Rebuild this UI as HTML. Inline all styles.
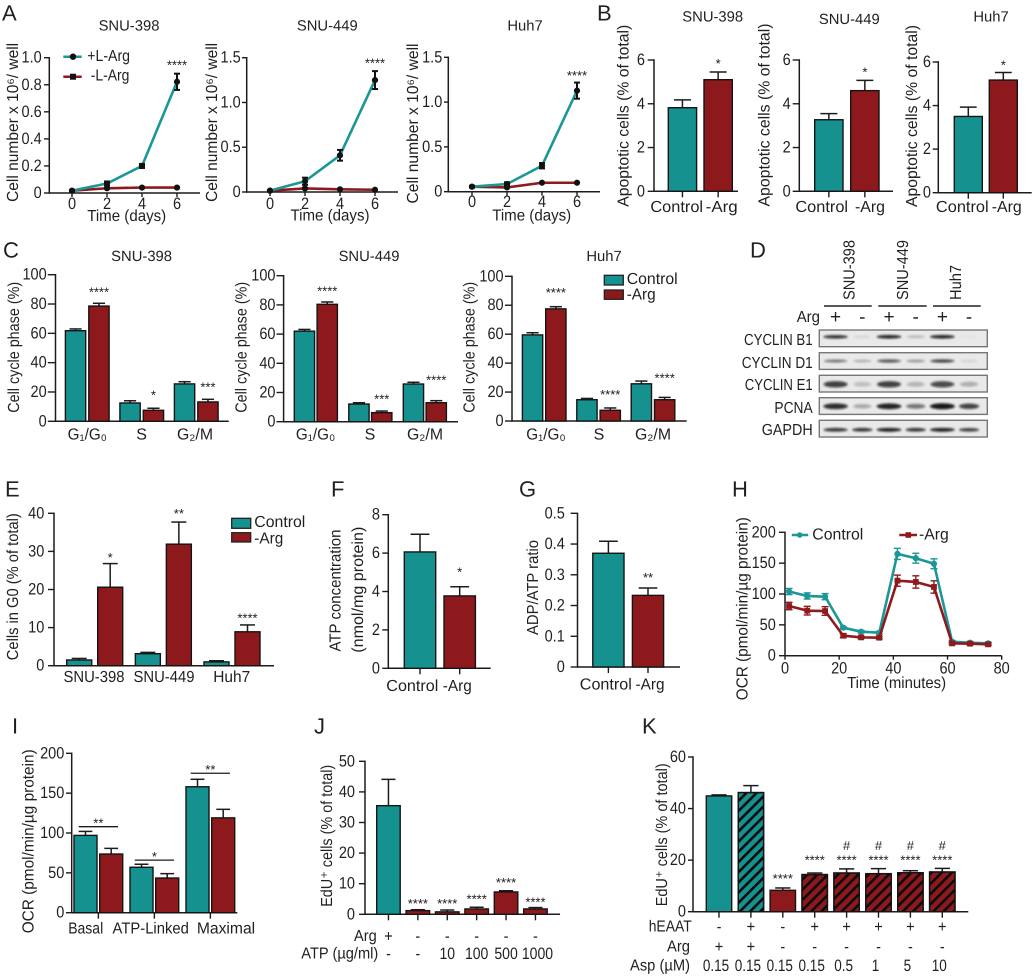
<!DOCTYPE html>
<html lang="en">
<head>
<meta charset="utf-8">
<title>Arginine deprivation figure</title>
<style>
html,body{margin:0;padding:0;background:#fff;}
svg{display:block;}
text{font-family:"Liberation Sans",sans-serif;fill:#231f20;dominant-baseline:central;font-size:16px;text-rendering:geometricPrecision;}
.letter{font-size:22px;}
.title{font-size:14.8px;}
.mid{text-anchor:middle;}
.end{text-anchor:end;}
</style>
</head>
<body>
<svg id="figure" xmlns="http://www.w3.org/2000/svg" width="1035" height="977" viewBox="0 0 1035 977">
<defs>
<pattern id="hatch" patternUnits="userSpaceOnUse" width="7.2" height="7.2" patternTransform="rotate(45)"><rect x="0" y="0" width="2.6" height="7.2" fill="#0b0b0b"/></pattern>
<filter id="blur" x="-30%" y="-100%" width="160%" height="300%"><feGaussianBlur stdDeviation="1"/></filter>
</defs>
<rect x="0" y="0" width="1035" height="977" fill="#fff"/>

<text class="letter" x="2" y="13">A</text>
<text class="letter" x="597" y="13">B</text>
<text class="letter" x="3" y="250">C</text>
<text class="letter" x="750" y="250">D</text>
<text class="letter" x="5" y="489">E</text>
<text class="letter" x="331" y="489">F</text>
<text class="letter" x="519" y="489">G</text>
<text class="letter" x="732" y="489">H</text>
<text class="letter" x="12" y="726">I</text>
<text class="letter" x="314" y="726">J</text>
<text class="letter" x="642" y="726">K</text>

<!-- Panel titles -->
<text class="title mid" x="129" y="26.7">SNU-398</text>
<text class="title mid" x="327.3" y="26.7">SNU-449</text>
<text class="title mid" x="525" y="26.7">Huh7</text>
<text class="title mid" x="712.7" y="17.3">SNU-398</text>
<text class="title mid" x="849.3" y="20">SNU-449</text>
<text class="title mid" x="991" y="17.3">Huh7</text>
<text class="title mid" x="141.6" y="257">SNU-398</text>
<text class="title mid" x="369" y="257">SNU-449</text>
<text class="title mid" x="604" y="257">Huh7</text>

<!-- Y axis titles -->
<text class="mid" transform="translate(13.3,122.4) rotate(-90)" textLength="159" lengthAdjust="spacingAndGlyphs">Cell number x 10⁶/ well</text>
<text class="mid" transform="translate(212.3,122.4) rotate(-90)" textLength="159" lengthAdjust="spacingAndGlyphs">Cell number x 10⁶/ well</text>
<text class="mid" transform="translate(413.3,123.5) rotate(-90)" textLength="160" lengthAdjust="spacingAndGlyphs">Cell number x 10⁶/ well</text>
<text class="mid" transform="translate(624,115.8) rotate(-90)" textLength="182" lengthAdjust="spacingAndGlyphs">Apoptotic cells (% of total)</text>
<text class="mid" transform="translate(765,115) rotate(-90)" textLength="183" lengthAdjust="spacingAndGlyphs">Apoptotic cells (% of total)</text>
<text class="mid" transform="translate(912.7,116) rotate(-90)" textLength="182" lengthAdjust="spacingAndGlyphs">Apoptotic cells (% of total)</text>
<text class="mid" transform="translate(14.5,347.3) rotate(-90)" textLength="131" lengthAdjust="spacingAndGlyphs">Cell cycle phase (%)</text>
<text class="mid" transform="translate(241.9,347.3) rotate(-90)" textLength="131" lengthAdjust="spacingAndGlyphs">Cell cycle phase (%)</text>
<text class="mid" transform="translate(470,347.3) rotate(-90)" textLength="131" lengthAdjust="spacingAndGlyphs">Cell cycle phase (%)</text>
<text class="mid" transform="translate(13.3,586.7) rotate(-90)" textLength="147" lengthAdjust="spacingAndGlyphs">Cells in G0 (% of total)</text>
<text class="mid" transform="translate(336,590.5) rotate(-90)" textLength="122" lengthAdjust="spacingAndGlyphs">ATP concentration</text>
<text class="mid" transform="translate(358.3,589.7) rotate(-90)" textLength="126" lengthAdjust="spacingAndGlyphs">(nmol/mg protein)</text>
<text class="mid" transform="translate(533.4,587.5) rotate(-90)" textLength="95" lengthAdjust="spacingAndGlyphs">ADP/ATP ratio</text>
<text class="mid" transform="translate(743,608.7) rotate(-90)" textLength="183" lengthAdjust="spacingAndGlyphs">OCR (pmol/min/µg protein)</text>
<text class="mid" transform="translate(29,841.3) rotate(-90)" textLength="184" lengthAdjust="spacingAndGlyphs">OCR (pmol/min/µg protein)</text>
<text class="mid" transform="translate(327.3,835.8) rotate(-90)" textLength="142" lengthAdjust="spacingAndGlyphs">EdU⁺ cells (% of total)</text>
<text class="mid" transform="translate(662.3,834.8) rotate(-90)" textLength="143" lengthAdjust="spacingAndGlyphs">EdU⁺ cells (% of total)</text>

<!-- X axis titles -->
<text class="mid" x="126.7" y="216.7" textLength="79" lengthAdjust="spacingAndGlyphs">Time (days)</text>
<text class="mid" x="330" y="216" textLength="79" lengthAdjust="spacingAndGlyphs">Time (days)</text>
<text class="mid" x="531.7" y="216" textLength="79" lengthAdjust="spacingAndGlyphs">Time (days)</text>
<text class="mid" x="896.6" y="683.3" textLength="99" lengthAdjust="spacingAndGlyphs">Time (minutes)</text>

<!-- Category labels -->
<text class="mid" x="676.7" y="207.7" textLength="52.7" lengthAdjust="spacingAndGlyphs">Control</text>
<text class="mid" x="721.7" y="207.7" textLength="32" lengthAdjust="spacingAndGlyphs">-Arg</text>
<text class="mid" x="821.7" y="207.7" textLength="52.7" lengthAdjust="spacingAndGlyphs">Control</text>
<text class="mid" x="870" y="207.7" textLength="30" lengthAdjust="spacingAndGlyphs">-Arg</text>
<text class="mid" x="962.3" y="207.7" textLength="52.7" lengthAdjust="spacingAndGlyphs">Control</text>
<text class="mid" x="1006.7" y="207.7" textLength="30" lengthAdjust="spacingAndGlyphs">-Arg</text>

<text class="mid" x="87.3" y="435" textLength="39.4" lengthAdjust="spacingAndGlyphs">G₁/G₀</text>
<text class="mid" x="141.6" y="435">S</text>
<text class="mid" x="195" y="435" textLength="36" lengthAdjust="spacingAndGlyphs">G₂/M</text>
<text class="mid" x="315.6" y="435" textLength="39.4" lengthAdjust="spacingAndGlyphs">G₁/G₀</text>
<text class="mid" x="370" y="435">S</text>
<text class="mid" x="425" y="435" textLength="36" lengthAdjust="spacingAndGlyphs">G₂/M</text>
<text class="mid" x="546" y="435" textLength="39.4" lengthAdjust="spacingAndGlyphs">G₁/G₀</text>
<text class="mid" x="599" y="435">S</text>
<text class="mid" x="653" y="435" textLength="36" lengthAdjust="spacingAndGlyphs">G₂/M</text>

<text class="mid" x="94" y="677.7" textLength="61" lengthAdjust="spacingAndGlyphs">SNU-398</text>
<text class="mid" x="164" y="677.7" textLength="61" lengthAdjust="spacingAndGlyphs">SNU-449</text>
<text class="mid" x="231.7" y="677.7" textLength="37" lengthAdjust="spacingAndGlyphs">Huh7</text>

<text class="mid" x="412.3" y="686.7" textLength="52" lengthAdjust="spacingAndGlyphs">Control</text>
<text class="mid" x="457.3" y="686.7" textLength="29" lengthAdjust="spacingAndGlyphs">-Arg</text>
<text class="mid" x="605.8" y="685" textLength="52" lengthAdjust="spacingAndGlyphs">Control</text>
<text class="mid" x="650" y="685" textLength="29" lengthAdjust="spacingAndGlyphs">-Arg</text>

<text class="mid" x="85.7" y="929" textLength="35" lengthAdjust="spacingAndGlyphs">Basal</text>
<text class="mid" x="150.7" y="929" textLength="76.3" lengthAdjust="spacingAndGlyphs">ATP-Linked</text>
<text class="mid" x="226" y="929" textLength="58.3" lengthAdjust="spacingAndGlyphs">Maximal</text>

<text class="end" x="376.7" y="936.7" textLength="22.7" lengthAdjust="spacingAndGlyphs">Arg</text>
<text class="end" x="378.3" y="954" textLength="77" lengthAdjust="spacingAndGlyphs">ATP (µg/ml)</text>
<text class="end" x="691.7" y="927" textLength="43" lengthAdjust="spacingAndGlyphs">hEAAT</text>
<text class="end" x="690" y="947" textLength="23" lengthAdjust="spacingAndGlyphs">Arg</text>
<text class="end" x="690" y="966" textLength="60" lengthAdjust="spacingAndGlyphs">Asp (µM)</text>

<!-- Legends -->
<g>
<line x1="63.3" x2="81.7" y1="56.7" y2="56.7" stroke="#1a9796" stroke-width="2.5"/>
<circle cx="73" cy="56.7" r="3.2" fill="#111"/>
<text x="87.3" y="56.7" textLength="42.7" lengthAdjust="spacingAndGlyphs">+L-Arg</text>
<line x1="63.3" x2="81.7" y1="76.7" y2="76.7" stroke="#8f1a1e" stroke-width="2.5"/>
<rect x="70" y="73.7" width="6" height="6" fill="#111"/>
<text x="90.7" y="76" textLength="38.7" lengthAdjust="spacingAndGlyphs">-L-Arg</text>
</g>
<g>
<rect x="604.3" y="275.3" width="19" height="9.7" fill="#159290" stroke="#222" stroke-width="1.3"/>
<text x="626.7" y="279.7" textLength="51" lengthAdjust="spacingAndGlyphs">Control</text>
<rect x="604.3" y="290" width="19" height="9.3" fill="#8e191c" stroke="#222" stroke-width="1.3"/>
<text x="626.7" y="295" textLength="29" lengthAdjust="spacingAndGlyphs">-Arg</text>
</g>
<g>
<rect x="231.7" y="518.3" width="19" height="10" fill="#159290" stroke="#222" stroke-width="1.3"/>
<text x="254.3" y="522.7" textLength="51" lengthAdjust="spacingAndGlyphs">Control</text>
<rect x="231.7" y="532.7" width="19" height="9.3" fill="#8e191c" stroke="#222" stroke-width="1.3"/>
<text x="254.3" y="539" textLength="29" lengthAdjust="spacingAndGlyphs">-Arg</text>
</g>
<g>
<line x1="791.8" x2="808.2" y1="535" y2="535" stroke="#1a9796" stroke-width="2.5"/>
<circle cx="799.7" cy="535" r="2.8" fill="#1a9796"/>
<text x="812.3" y="535" textLength="51" lengthAdjust="spacingAndGlyphs">Control</text>
<line x1="899.3" x2="917" y1="535" y2="535" stroke="#8f1a1e" stroke-width="2.5"/>
<rect x="905.5" y="532.2" width="5.6" height="5.6" fill="#8f1a1e"/>
<text x="919" y="535" textLength="29.7" lengthAdjust="spacingAndGlyphs">-Arg</text>
</g>

<!-- Panel D static labels -->
<g>
<text transform="translate(850,300) rotate(-90)" textLength="60" lengthAdjust="spacingAndGlyphs">SNU-398</text>
<text transform="translate(903.3,300) rotate(-90)" textLength="60" lengthAdjust="spacingAndGlyphs">SNU-449</text>
<text transform="translate(956.7,300) rotate(-90)" textLength="35" lengthAdjust="spacingAndGlyphs">Huh7</text>
<line x1="824" x2="871.7" y1="306" y2="306" stroke="#222" stroke-width="1.5"/>
<line x1="878.3" x2="926.7" y1="306" y2="306" stroke="#222" stroke-width="1.5"/>
<line x1="933" x2="980.7" y1="306" y2="306" stroke="#222" stroke-width="1.5"/>
<text class="end" x="820" y="317.3" textLength="23.3" lengthAdjust="spacingAndGlyphs">Arg</text>
<text class="end" x="812.7" y="340.7" textLength="68.7" lengthAdjust="spacingAndGlyphs">CYCLIN B1</text>
<text class="end" x="812.7" y="363.7" textLength="71" lengthAdjust="spacingAndGlyphs">CYCLIN D1</text>
<text class="end" x="812.7" y="385.7" textLength="68" lengthAdjust="spacingAndGlyphs">CYCLIN E1</text>
<text class="end" x="812.7" y="408.3" textLength="38.3" lengthAdjust="spacingAndGlyphs">PCNA</text>
<text class="end" x="812.7" y="430.7" textLength="51" lengthAdjust="spacingAndGlyphs">GAPDH</text>
</g>
</svg>

<script>
/* ===== Panel A ===== */
const aDays = [0, 2, 4, 6];
const aDayLabels = ['0', '2', '4', '6'];
const a1YTicks = [0, 0.2, 0.4, 0.6, 0.8, 1.0];
const a1YLabels = ['0', '0.2', '0.4', '0.6', '0.8', '1.0'];
const a23YTicks = [0, 0.5, 1.0, 1.5];
const a23YLabels = ['0', '0.5', '1.0', '1.5'];
const a1Plus = [0.017, 0.07, 0.2, 0.822];
const a1PlusErr = [0.005, 0.015, 0.015, 0.06];
const a1Minus = [0.017, 0.035, 0.04, 0.04];
const a2Plus = [0.015, 0.12, 0.41, 1.25];
const a2PlusErr = [0.005, 0.04, 0.06, 0.1];
const a2Minus = [0.015, 0.04, 0.03, 0.025];
const a3Plus = [0.056, 0.085, 0.29, 1.128];
const a3PlusErr = [0.01, 0.02, 0.03, 0.09];
const a3Minus = [0.056, 0.048, 0.1, 0.1];
const aStarLevels = [0.953, 1.45, 1.31];

/* ===== Panel B ===== */
const bYTicks = [0, 2, 4, 6];
const bYLabels = ['0', '2', '4', '6'];
const b1Values = [3.82, 5.1];
const b1Errors = [4.18, 5.45];
const b2Values = [3.27, 4.6];
const b2Errors = [3.55, 5.07];
const b3Values = [3.5, 5.17];
const b3Errors = [3.93, 5.52];
const bStarLevels = [5.88, 5.5, 5.91];

/* ===== Panel C ===== */
const cYTicks = [0, 20, 40, 60, 80, 100];
const cYLabels = ['0', '20', '40', '60', '80', '100'];
const c1Values = [61.8, 78.6, 12.5, 7.5, 25.5, 13.2];
const c1Errors = [63, 80.5, 14, 8.9, 27, 15];
const c1Stars = ['****', '*', '***'];
const c1StarLevels = [89, 18.6, 24];
const c2Values = [62, 80.4, 12.1, 6.2, 25.8, 13];
const c2Errors = [63.2, 82, 13, 7.3, 27, 14.4];
const c2Stars = ['****', '***', '****'];
const c2StarLevels = [90.2, 16.4, 29.2];
const c3Values = [59.5, 77.5, 14.7, 7.4, 25.7, 14.7];
const c3Errors = [61, 79, 15.6, 9, 27.6, 16.3];
const c3Stars = ['****', '****', '****'];
const c3StarLevels = [89.4, 18.9, 30.4];

/* ===== Panel D: band intensity per lane ===== */
const dLaneSigns = ['+', '-', '+', '-', '+', '-'];
const dCyclinB1 = [0.9, 0.1, 0.95, 0.25, 0.95, 0.03];
const dCyclinD1 = [0.55, 0.3, 0.7, 0.4, 0.8, 0.12];
const dCyclinE1 = [0.8, 0.2, 0.8, 0.25, 0.75, 0.28];
const dPcna = [0.9, 0.3, 0.95, 0.55, 1, 0.8];
const dGapdh = [0.85, 0.85, 0.95, 0.85, 0.95, 0.8];

/* ===== Panel E ===== */
const eYTicks = [0, 10, 20, 30, 40];
const eYLabels = ['0', '10', '20', '30', '40'];
const eValues = [1.5, 20.6, 3.15, 31.9, 1, 8.9];
const eErrors = [1.9, 26.8, 3.5, 37.7, 1.3, 10.7];
const eStars = ['*', '**', '****'];
const eStarLevels = [28.6, 40.2, 12.8];

/* ===== Panels F, G ===== */
const fYTicks = [0, 2, 4, 6, 8];
const fYLabels = ['0', '2', '4', '6', '8'];
const fValues = [6.06, 3.77];
const fErrors = [6.98, 4.25];
const fStarLevels = [5.08];
const gYTicks = [0, 0.1, 0.2, 0.3, 0.4, 0.5];
const gYLabels = ['0', '0.1', '0.2', '0.3', '0.4', '0.5'];
const gValues = [0.37, 0.233];
const gErrors = [0.409, 0.257];
const gStarLevels = [0.294];

/* ===== Panel H ===== */
const hMinutes = [1.5, 8.2, 14.8, 21.5, 28.1, 34.8, 41.5, 48.3, 55, 61.7, 68.3, 75];
const hControl = [104, 96.8, 95.7, 45.4, 38.9, 37.3, 165, 158, 149, 22.7, 21, 20];
const hControlErr = [5, 5, 5, 2, 2, 2, 9, 8, 8, 2, 2, 2];
const hArg = [80.5, 73, 72.4, 32.4, 29.7, 29.2, 121.6, 119.5, 111.4, 20, 19.5, 18.4];
const hArgErr = [6, 7, 7, 3, 2, 2, 9, 10, 10, 2, 2, 2];
const hXTicks = [0, 20, 40, 60, 80];
const hXLabels = ['0', '20', '40', '60', '80'];
const hYTicks = [0, 50, 100, 150, 200];
const hYLabels = ['0', '50', '100', '150', '200'];

/* ===== Panel I ===== */
const iYTicks = [0, 50, 100, 150, 200];
const iYLabels = ['0', '50', '100', '150', '200'];
const iValues = [97, 73.6, 57, 43.5, 158, 119];
const iErrors = [102, 80.7, 60.8, 49, 167.4, 129.7];
const iSigLabels = ['**', '*', '**'];
const iSigLevels = [107.9, 66, 175];

/* ===== Panel J ===== */
const jYTicks = [0, 10, 20, 30, 40, 50];
const jYLabels = ['0', '10', '20', '30', '40', '50'];
const jValues = [35.5, 1.2, 0.8, 1.75, 7.3, 1.75];
const jErrors = [44.1, 1.5, 1.4, 2.3, 7.7, 2.2];
const jStars = ['', '****', '****', '****', '****', '****'];
const jStarLevels = [0, 3.8, 3.8, 5.4, 10.65, 4.35];
const jArgRow = ['+', '-', '-', '-', '-', '-'];
const jAtpRow = ['-', '-', '10', '100', '500', '1000'];

/* ===== Panel K ===== */
const kYTicks = [0, 20, 40, 60];
const kYLabels = ['0', '20', '40', '60'];
const kValues = [44.9, 46.2, 8.3, 14.4, 15, 14.75, 15.1, 15.4];
const kErrors = [45.3, 48.9, 9.2, 15, 16.6, 16.7, 15.9, 16.8];
const kStars = ['', '', '****', '****', '****', '****', '****', '****'];
const kStarLevels = [0, 0, 13.2, 20.4, 20.4, 20.4, 20.4, 20.4];
const kHash = ['', '', '', '', '#', '#', '#', '#'];
const kHashLevels = [0, 0, 0, 0, 25.6, 25.6, 25.6, 25.6];
const kHeaatRow = ['-', '+', '-', '+', '+', '+', '+', '+'];
const kArgRow = ['+', '+', '-', '-', '-', '-', '-', '-'];
const kAspRow = ['0.15', '0.15', '0.15', '0.15', '0.5', '1', '5', '10'];

/* ===== Drawing helpers ===== */
const NS = 'http://www.w3.org/2000/svg';
const svg = document.getElementById('figure');
const TEAL = '#159290';
const RED = '#8e191c';
const LINE_TEAL = '#1a9796';
const LINE_RED = '#8f1a1e';
const INK = '#1c1c1c';

function mk(tag, attrs, name, parent) {
  const el = document.createElementNS(NS, tag);
  for (const k in attrs) el.setAttribute(k, attrs[k]);
  
  
  (parent || svg).appendChild(el);
  return el;
}
function label(str, x, y, anchor, name, parent, squeeze) {
  const el = mk('text', { x: x, y: y, 'text-anchor': anchor, style: 'font-size:16.5px' }, name, parent);
  el.textContent = str;
  const natural = el.getComputedTextLength();
  el.setAttribute('textLength', natural * (squeeze || 0.88));
  el.setAttribute('lengthAdjust', 'spacingAndGlyphs');
  return el;
}
function star(str, x, cy, name, parent) {
  const el = mk('text', { x: x, y: cy + 1, 'text-anchor': 'middle', style: 'font-size:13px' }, name, parent);
  el.textContent = str;
  return el;
}
function seg(x1, y1, x2, y2, w, color, name, parent) {
  return mk('line', { x1: x1, y1: y1, x2: x2, y2: y2, stroke: color, 'stroke-width': w }, name, parent);
}
function linear(d0, d1, r0, r1) {
  return function (v) { return r0 + (v - d0) / (d1 - d0) * (r1 - r0); };
}
function axes(p, yTicks, yLabels) {
  const g = mk('g', {}, p.name, svg);
  const y = linear(0, yTicks[yTicks.length - 1], p.base, p.top);
  seg(p.left, p.top - 0.7, p.left, p.base + 0.7, 1.5, INK, p.name + '-y-line', g);
  seg(p.left, p.base, p.right, p.base, 1.5, INK, p.name + '-x-line', g);
  yTicks.forEach(function (t, i) {
    seg(p.tick, y(t), p.left, y(t), 1.4, INK, p.name + '-y-tick-' + i, g);
    label(yLabels[i], p.labelX, y(t), 'end', p.name + '-y-tick-label-' + i, g);
  });
  return { y: y, g: g, base: p.base };
}
function xTick(a, x, name) {
  seg(x, a.base, x, a.base + 6, 1.4, INK, name, a.g);
}
function layout(first, w, pair, group, per) {
  return {
    w: w,
    x: function (i) { return first + Math.floor(i / per) * group + (i % per) * pair; },
    c: function (i) { return first + Math.floor(i / per) * group + (i % per) * pair + w / 2; }
  };
}
function bars(a, L, values, errors, colorOf, hatchOf, name) {
  values.forEach(function (v, i) {
    const x = L.x(i);
    const cx = L.c(i);
    const yTop = a.y(v);
    const yErr = a.y(errors[i]);
    seg(cx, yTop, cx, yErr, 1.5, INK, name + '-error-stem-' + i, a.g);
    seg(cx - L.w * 0.3, yErr, cx + L.w * 0.3, yErr, 1.5, INK, name + '-error-cap-' + i, a.g);
    mk('rect', { x: x, y: yTop, width: L.w, height: a.base - yTop, fill: colorOf(i), stroke: '#141414', 'stroke-width': 1.4 }, name + '-bar-' + i, a.g);
    if (hatchOf && hatchOf(i)) {
      mk('rect', { x: x, y: yTop, width: L.w, height: a.base - yTop, fill: 'url(#hatch)', stroke: '#141414', 'stroke-width': 1.4 }, name + '-bar-hatch-' + i, a.g);
    }
  });
}
function pairColor(i) { return i % 2 === 0 ? TEAL : RED; }

function series(xs, values, errors, x, y, color, marker, markerColor, errColor, capHalf, errWidth, name, parent) {
  const g = mk('g', {}, name, parent);
  const pts = values.map(function (v, i) { return x(xs[i]) + ',' + y(v); }).join(' ');
  mk('polyline', { points: pts, fill: 'none', stroke: color, 'stroke-width': 2.6, 'stroke-linejoin': 'round' }, name + '-line', g);
  values.forEach(function (v, i) {
    const px = x(xs[i]);
    const e = errors ? errors[i] : 0;
    if (e) {
      seg(px, y(v - e), px, y(v + e), errWidth, errColor, name + '-error-stem-' + i, g);
      seg(px - capHalf, y(v + e), px + capHalf, y(v + e), errWidth, errColor, name + '-error-top-' + i, g);
      seg(px - capHalf, y(v - e), px + capHalf, y(v - e), errWidth, errColor, name + '-error-bottom-' + i, g);
    }
    if (marker === 'circle') {
      mk('circle', { cx: px, cy: y(v), r: 3.1, fill: markerColor }, name + '-point-' + i, g);
    } else {
      mk('rect', { x: px - 2.9, y: y(v) - 2.9, width: 5.8, height: 5.8, fill: markerColor }, name + '-point-' + i, g);
    }
  });
}

/* ===== Panel A draw ===== */
function drawA(p, px0, px6, plus, plusErr, minus, yTicks, yLabels, labelY, level, name) {
  const a = axes(p, yTicks, yLabels);
  const x = linear(0, 6, px0, px6);
  aDays.forEach(function (d, i) {
    seg(x(d), a.base, x(d), a.base + 4, 1.4, INK, name + '-x-tick-' + i, a.g);
    label(aDayLabels[i], x(d), labelY, 'middle', name + '-x-tick-label-' + i, a.g);
  });
  series(aDays, minus, null, x, a.y, LINE_RED, 'circle', '#111', '#111', 3, 2, name + '-series-minus-arg', a.g);
  series(aDays, plus, plusErr, x, a.y, LINE_TEAL, 'circle', '#111', '#111', 3, 2, name + '-series-plus-arg', a.g);
  star('****', x(6), a.y(level), name + '-significance', a.g);
}
drawA({ name: 'a1-axes', left: 49.3, tick: 44, labelX: 41.7, right: 200, base: 193, top: 57.7 }, 72, 177, a1Plus, a1PlusErr, a1Minus, a1YTicks, a1YLabels, 204, aStarLevels[0], 'a1');
drawA({ name: 'a2-axes', left: 246.7, tick: 242, labelX: 240.7, right: 398, base: 192, top: 57.7 }, 270, 375, a2Plus, a2PlusErr, a2Minus, a23YTicks, a23YLabels, 204, aStarLevels[1], 'a2');
drawA({ name: 'a3-axes', left: 448.3, tick: 444, labelX: 442.3, right: 600, base: 191.7, top: 57.3 }, 472, 577, a3Plus, a3PlusErr, a3Minus, a23YTicks, a23YLabels, 202, aStarLevels[2], 'a3');

/* ===== Two-bar panels ===== */
function drawPair(p, L, values, errors, yTicks, yLabels, level, name) {
  const a = axes(p, yTicks, yLabels);
  bars(a, L, values, errors, pairColor, null, name);
  xTick(a, L.c(0), name + '-x-tick-control');
  xTick(a, L.c(1), name + '-x-tick-arg');
  star('*'.repeat(p.stars || 1), L.c(1), a.y(level), name + '-significance', a.g);
}
drawPair({ name: 'b1-axes', left: 654, tick: 647.7, labelX: 645, right: 738, base: 191.3, top: 60 }, layout(668.3, 28.3, 35.7, 0, 2), b1Values, b1Errors, bYTicks, bYLabels, bStarLevels[0], 'b1');
drawPair({ name: 'b2-axes', left: 799.3, tick: 792.7, labelX: 790.7, right: 893, base: 191.3, top: 60 }, layout(814.7, 28.3, 36, 0, 2), b2Values, b2Errors, bYTicks, bYLabels, bStarLevels[1], 'b2');
drawPair({ name: 'b3-axes', left: 938.3, tick: 932.7, labelX: 931, right: 1031.7, base: 192.7, top: 62 }, layout(954.3, 28, 35, 0, 2), b3Values, b3Errors, bYTicks, bYLabels, bStarLevels[2], 'b3');
drawPair({ name: 'f-axes', left: 388.3, tick: 382.3, labelX: 380, right: 490.7, base: 668.3, top: 514.7 }, layout(404.3, 31.4, 39.7, 0, 2), fValues, fErrors, fYTicks, fYLabels, fStarLevels[0], 'f');
drawPair({ name: 'g-axes', stars: 2, left: 577.5, tick: 570.6, labelX: 564.8, right: 680, base: 667, top: 513.3 }, layout(592.8, 31.2, 39.6, 0, 2), gValues, gErrors, gYTicks, gYLabels, gStarLevels[0], 'g');

/* ===== Panel C draw ===== */
function drawC(p, L, values, errors, stars, levels, name) {
  const a = axes(p, cYTicks, cYLabels);
  bars(a, L, values, errors, pairColor, null, name);
  stars.forEach(function (s, i) {
    star(s, L.c(i * 2 + 1), a.y(levels[i]), name + '-significance-' + i, a.g);
  });
}
drawC({ name: 'c1-axes', left: 55.5, tick: 47.8, labelX: 46.7, right: 228.8, base: 421.3, top: 274.7 }, layout(65.4, 20.3, 23.4, 54.5, 2), c1Values, c1Errors, c1Stars, c1StarLevels, 'c1');
drawC({ name: 'c2-axes', left: 283.6, tick: 276.5, labelX: 275.5, right: 458, base: 421.7, top: 275.7 }, layout(294.3, 20.3, 22.8, 54.5, 2), c2Values, c2Errors, c2Stars, c2StarLevels, 'c2');
drawC({ name: 'c3-axes', left: 512, tick: 505, labelX: 503.6, right: 686.7, base: 421, top: 276.3 }, layout(522.4, 20.3, 23.3, 54.4, 2), c3Values, c3Errors, c3Stars, c3StarLevels, 'c3');

/* ===== Panel D draw ===== */
function laneX(i) { return 835.6 + i * 26.7; }
function drawBlot(top, height, bandY, thickness, intensities, name) {
  const g = mk('g', {}, name, svg);
  mk('rect', { x: 819.3, y: top, width: 168, height: height, fill: '#e9e9e9', stroke: '#777', 'stroke-width': 1.4 }, name + '-membrane', g);
  intensities.forEach(function (v, i) {
    const half = (i % 2 === 0 ? 10.5 : 8.5) + 2 * v;
    mk('ellipse', { cx: laneX(i), cy: bandY, rx: half, ry: thickness / 2 * (0.6 + 0.4 * v), fill: '#0c0c0c', opacity: v * 0.95, filter: 'url(#blur)' }, name + '-band-' + i, g);
  });
}
dLaneSigns.forEach(function (s, i) {
  const el = label(s, laneX(i), 317.3, 'middle', 'd-arg-sign-' + i, svg, 1);
  el.setAttribute('style', 'font-size:19px');
  el.removeAttribute('textLength');
});
drawBlot(330, 16.7, 336.8, 3.6, dCyclinB1, 'd-blot-cyclin-b1');
drawBlot(352.7, 16.7, 361, 3.6, dCyclinD1, 'd-blot-cyclin-d1');
drawBlot(375.3, 16.7, 384.3, 7, dCyclinE1, 'd-blot-cyclin-e1');
drawBlot(397.7, 16.7, 406.3, 6, dPcna, 'd-blot-pcna');
drawBlot(420.3, 16.7, 429.8, 4, dGapdh, 'd-blot-gapdh');

/* ===== Panel E draw ===== */
(function () {
  const a = axes({ name: 'e-axes', left: 54, tick: 48, labelX: 44.3, right: 274, base: 665.7, top: 513.3 }, eYTicks, eYLabels);
  const L = layout(66.7, 25, 31, 68.65, 2);
  bars(a, L, eValues, eErrors, pairColor, null, 'e');
  eStars.forEach(function (s, i) {
    star(s, L.c(i * 2 + 1), a.y(eStarLevels[i]), 'e-significance-' + i, a.g);
  });
})();

/* ===== Panel H draw ===== */
(function () {
  const a = axes({ name: 'h-axes', left: 785, tick: 779, labelX: 775.8, right: 1001.7, base: 655.7, top: 532.3 }, hYTicks, hYLabels);
  const x = linear(0, 80, 785, 1001.7);
  hXTicks.forEach(function (t, i) {
    seg(x(t), a.base, x(t), a.base + 4, 1.4, INK, 'h-x-tick-' + i, a.g);
    label(hXLabels[i], x(t), 668.3, 'middle', 'h-x-tick-label-' + i, a.g);
  });
  series(hMinutes, hControl, hControlErr, x, a.y, LINE_TEAL, 'circle', LINE_TEAL, LINE_TEAL, 3.5, 1.4, 'h-series-control', a.g);
  series(hMinutes, hArg, hArgErr, x, a.y, LINE_RED, 'square', LINE_RED, LINE_RED, 3.5, 1.4, 'h-series-arg', a.g);
})();

/* ===== Panel I draw ===== */
(function () {
  const a = axes({ name: 'i-axes', left: 71.7, tick: 66, labelX: 64.3, right: 237.3, base: 912.7, top: 753.3 }, iYTicks, iYLabels);
  const L = layout(74, 23, 25.7, 56, 2);
  bars(a, L, iValues, iErrors, pairColor, null, 'i');
  iSigLabels.forEach(function (s, i) {
    const mid = L.x(i * 2) + (L.w + 25.7) / 2;
    xTick(a, mid, 'i-x-tick-' + i);
    seg(mid - 19.6, a.y(iSigLevels[i]), mid + 19.6, a.y(iSigLevels[i]), 1.3, INK, 'i-significance-line-' + i, a.g);
    star(s, mid, a.y(iSigLevels[i]) - 4.5, 'i-significance-' + i, a.g);
  });
})();

/* ===== Panel J draw ===== */
(function () {
  const a = axes({ name: 'j-axes', left: 365, tick: 359, labelX: 355, right: 560, base: 914.3, top: 761.3 }, jYTicks, jYLabels);
  const L = layout(376.7, 23.5, 0, 29.4, 1);
  bars(a, L, jValues, jErrors, function (i) { return i === 0 ? TEAL : RED; }, null, 'j');
  jValues.forEach(function (v, i) {
    xTick(a, L.c(i), 'j-x-tick-' + i);
    if (jStars[i]) star(jStars[i], L.c(i), a.y(jStarLevels[i]), 'j-significance-' + i, a.g);
    label(jArgRow[i], L.c(i), 936.7, 'middle', 'j-arg-row-' + i, a.g);
    label(jAtpRow[i], L.c(i) + (i === 5 ? 2 : 0), 954, 'middle', 'j-atp-row-' + i, a.g, 0.85);
  });
})();

/* ===== Panel K draw ===== */
(function () {
  const a = axes({ name: 'k-axes', left: 693, tick: 688, labelX: 686, right: 968.3, base: 911.7, top: 757 }, kYTicks, kYLabels);
  const L = layout(706.3, 25.4, 0, 31.9, 1);
  bars(a, L, kValues, kErrors, function (i) { return i < 2 ? TEAL : RED; }, function (i) { return kHeaatRow[i] === '+'; }, 'k');
  kValues.forEach(function (v, i) {
    xTick(a, L.c(i), 'k-x-tick-' + i);
    if (kStars[i]) star(kStars[i], L.c(i), a.y(kStarLevels[i]), 'k-significance-' + i, a.g);
    if (kHash[i]) star(kHash[i], L.c(i), a.y(kHashLevels[i]) - 1, 'k-hash-' + i, a.g);
    label(kHeaatRow[i], L.c(i), 927, 'middle', 'k-heaat-row-' + i, a.g);
    label(kArgRow[i], L.c(i), 947, 'middle', 'k-arg-row-' + i, a.g);
    label(kAspRow[i], L.c(i) - 3, 966, 'middle', 'k-asp-row-' + i, a.g, 0.82);
  });
})();
</script>
</body>
</html>
